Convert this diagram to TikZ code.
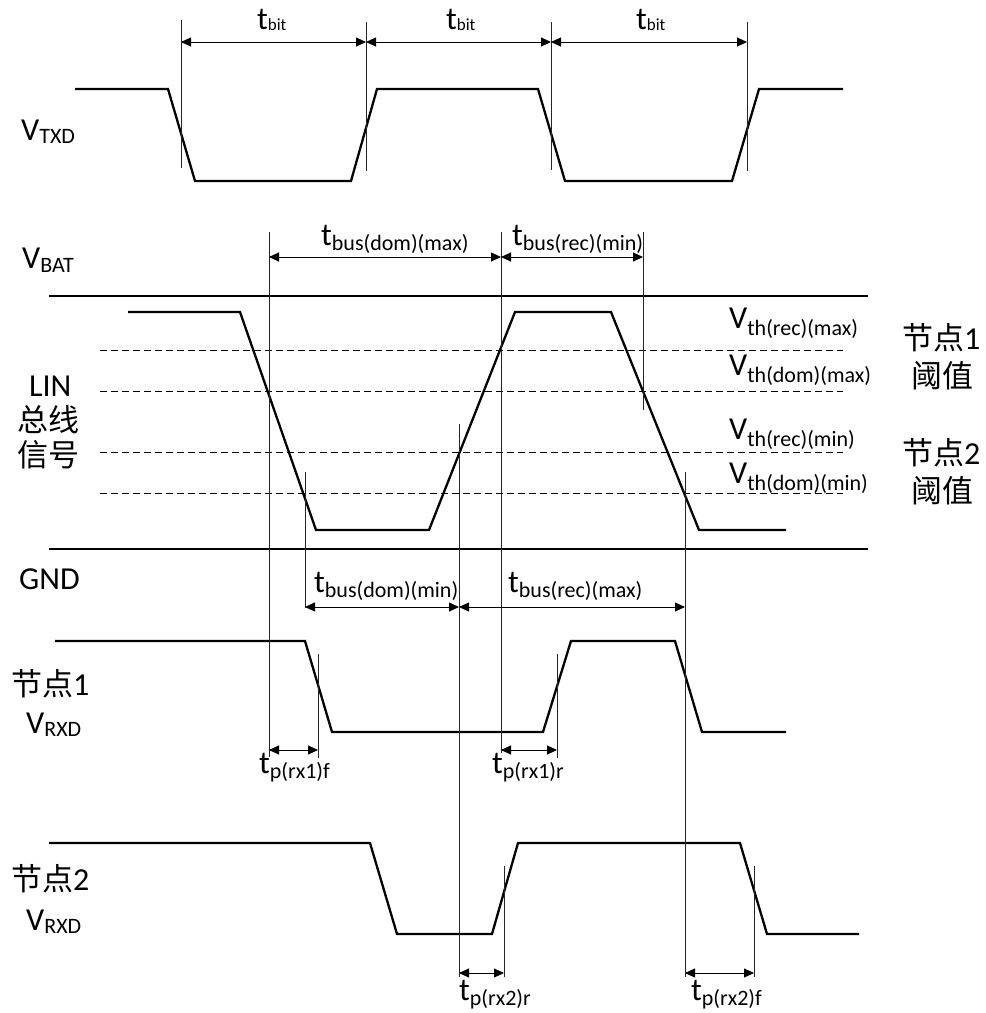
\documentclass[tikz,border=0pt]{standalone}
\usepackage{fontspec}
\setmainfont{Carlito}
\newfontfamily\cjk{Noto Sans CJK SC}
\usetikzlibrary{arrows.meta}
\newcommand\sub[3]{\raisebox{-#1}{\fontsize{#2}{#2}\selectfont #3}}
\newcommand\zh[1]{{\cjk\fontsize{31}{31}\selectfont #1}}
\begin{document}
\begin{tikzpicture}[x=1pt,y=-1pt,
  sig/.style={line width=2.3pt, line join=miter},
  vl/.style={line width=0.8pt, black!85},
  rail/.style={line width=1.5pt},
  thr/.style={line width=0.9pt, dash pattern=on 7pt off 4pt},
  dim/.style={line width=0.9pt, {Triangle[length=10pt,width=9pt]}-{Triangle[length=10pt,width=9pt]}},
  lab/.style={inner sep=0pt, anchor=base west, font=\fontsize{32}{32}\selectfont},
]
\useasboundingbox (0,0) rectangle (986,1013);

% ---------- signals ----------
\draw[sig] (75,89) -- (168,89) -- (195,181) -- (351,181) -- (377,89) -- (538,89) -- (565,181) -- (732,181) -- (759,89) -- (843,89);
\draw[sig] (128,312) -- (240,312) -- (316,530) -- (429,530) -- (515,312) -- (611,312) -- (699,530) -- (786,530);
\draw[sig] (55,641) -- (305,641) -- (332,732) -- (543,732) -- (571,641) -- (675,641) -- (702,732) -- (786,732);
\draw[sig] (49,843) -- (370,843) -- (397,934) -- (492,934) -- (518,843) -- (740,843) -- (767,934) -- (859,934);

% ---------- rails and thresholds ----------
\coordinate (vbatL) at (49,296); \coordinate (vbatR) at (868,296);
\coordinate (gndL) at (49,549); \coordinate (gndR) at (868,549);
\draw[rail] (vbatL) -- (vbatR);
\draw[rail] (gndL) -- (gndR);
\coordinate (th1L) at (100,350); \coordinate (th1R) at (843,350);
\coordinate (th2L) at (100,391); \coordinate (th2R) at (843,391);
\coordinate (th3L) at (100,452); \coordinate (th3R) at (843,452);
\coordinate (th4L) at (100,493); \coordinate (th4R) at (843,493);
\draw[thr] (th1L) -- (th1R);
\draw[thr] (th2L) -- (th2R);
\draw[thr] (th3L) -- (th3R);
\draw[thr] (th4L) -- (th4R);

% ---------- vertical marker lines ----------
\coordinate (a1t) at (181,20);  \coordinate (a1b) at (181,168);
\coordinate (a2t) at (366,22);  \coordinate (a2b) at (366,171);
\coordinate (a3t) at (551,22);  \coordinate (a3b) at (551,170);
\coordinate (a4t) at (747,22);  \coordinate (a4b) at (747,171);
\coordinate (b1t) at (269,232); \coordinate (b1b) at (269,757);
\coordinate (b2t) at (305,472); \coordinate (b2b) at (305,608);
\coordinate (b3t) at (459,424); \coordinate (b3b) at (459,977);
\coordinate (b4t) at (501,232); \coordinate (b4b) at (501,753);
\coordinate (b5t) at (643,232); \coordinate (b5b) at (643,410);
\coordinate (b6t) at (685,472); \coordinate (b6b) at (685,977);
\coordinate (c1t) at (318,654); \coordinate (c1b) at (318,758);
\coordinate (c2t) at (557,654); \coordinate (c2b) at (557,758);
\coordinate (d1t) at (504,866); \coordinate (d1b) at (504,977);
\coordinate (d2t) at (754,866); \coordinate (d2b) at (754,977);
\foreach \n in {a1,a2,a3,a4,b1,b2,b3,b4,b5,b6,c1,c2,d1,d2}
  \draw[vl] (\n t) -- (\n b);

% ---------- dimension arrows ----------
\draw[dim] (a1t |- 0,42) -- (a2t |- 0,42);
\draw[dim] (a2t |- 0,42) -- (a3t |- 0,42);
\draw[dim] (a3t |- 0,42) -- (a4t |- 0,42);
\draw[dim] (b1t |- 0,257) -- (b4t |- 0,257);
\draw[dim] (b4t |- 0,257) -- (b5t |- 0,257);
\draw[dim] (b2t |- 0,607) -- (b3t |- 0,607);
\draw[dim] (b3t |- 0,607) -- (b6t |- 0,607);
\draw[dim] (b1t |- 0,750) -- (c1t |- 0,750);
\draw[dim] (b4t |- 0,750) -- (c2t |- 0,750);
\draw[dim] (b3t |- 0,973) -- (d1t |- 0,973);
\draw[dim] (b6t |- 0,973) -- (d2t |- 0,973);

% ---------- timing labels ----------
\node[lab] (tb1) at (257,29) {t\sub{1pt}{17}{bit}};
\node[lab] (tb2) at (446,29) {t\sub{1pt}{17}{bit}};
\node[lab] (tb3) at (636,29) {t\sub{1pt}{17}{bit}};
\node[lab] (tbdmax) at (321,245) {t\sub{5pt}{22}{bus(dom)(max)}};
\node[lab] (tbrmin) at (512,245) {t\sub{5pt}{22}{bus(rec)(min)}};
\node[lab] (tbdmin) at (314,592) {t\sub{5pt}{22}{bus(dom)(min)}};
\node[lab] (tbrmax) at (508,592) {t\sub{5pt}{22}{bus(rec)(max)}};
\node[lab] (tp1f) at (259,773) {t\sub{5pt}{22}{p(rx1)f}};
\node[lab] (tp1r) at (492,773) {t\sub{5pt}{22}{p(rx1)r}};
\node[lab] (tp2r) at (459,1000) {t\sub{5pt}{22}{p(rx2)r}};
\node[lab] (tp2f) at (691,1000) {t\sub{5pt}{22}{p(rx2)f}};

% ---------- left labels ----------
\node[lab] (vtxd) at (21,140) {V\sub{3pt}{22}{TXD}};
\node[lab] (vbat) at (22,268) {V\sub{4pt}{22}{BAT}};
\node[lab] (lin) at (29,396) {LIN};
\node[lab] (lin2) at (17,431) {\zh{总线}};
\node[lab] (lin3) at (17,466) {\zh{信号}};
\node[lab] (gnd) at (19,589) {GND};
\node[lab] (n1) at (11,695) {\zh{节点}1};
\node[lab] (vrxd1) at (26,733) {V\sub{3pt}{22}{RXD}};
\node[lab] (n2) at (11,890) {\zh{节点}2};
\node[lab] (vrxd2) at (26,930) {V\sub{3pt}{22}{RXD}};

% ---------- right labels ----------
\node[lab] (vth1) at (729,328) {V\sub{7pt}{22}{th(rec)(max)}};
\node[lab] (vth2) at (729,375) {V\sub{7pt}{22}{th(dom)(max)}};
\node[lab] (vth3) at (729,439) {V\sub{7pt}{22}{th(rec)(min)}};
\node[lab] (vth4) at (729,483) {V\sub{7pt}{22}{th(dom)(min)}};
\node[lab] (r1) at (902,349) {\zh{节点}1};
\node[lab] (r1b) at (911,387) {\zh{阈值}};
\node[lab] (r2) at (902,464) {\zh{节点}2};
\node[lab] (r2b) at (911,502) {\zh{阈值}};
\end{tikzpicture}
\end{document}
